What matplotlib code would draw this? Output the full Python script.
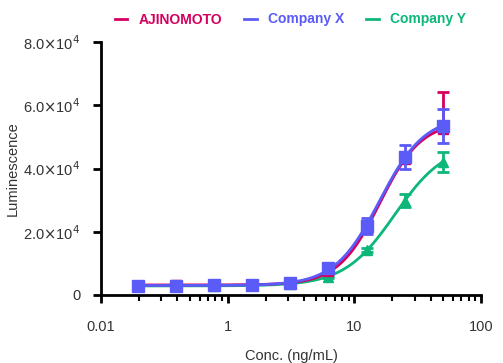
import numpy as np
import matplotlib
matplotlib.use("Agg")
import matplotlib.pyplot as plt
from matplotlib.ticker import FixedLocator, FixedFormatter, LogLocator, NullFormatter

plt.rcParams['font.family'] = ['Liberation Sans', 'DejaVu Sans']

# serial dilution, ng/mL
conc = [0.195, 0.39, 0.78, 1.5625, 3.125, 6.25, 12.5, 25, 50]

ajinomoto = [3000, 3100, 3200, 3300, 3900, 7600, 20800, 43000, 52500]
ajinomoto_err_lo = [200, 200, 200, 200, 200, 300, 600, 800, 800]
ajinomoto_err_hi = [200, 200, 200, 200, 200, 400, 1000, 2000, 11700]

company_x = [2900, 3000, 3100, 3200, 3800, 8500, 21800, 43700, 53500]
company_x_err = [200, 200, 200, 200, 200, 500, 2500, 3700, 5400]

company_y = [2800, 2900, 3000, 3100, 3500, 5700, 14200, 29800, 42100]
company_y_err = [150, 150, 150, 150, 150, 300, 600, 2000, 3200]

series_names = ['AJINOMOTO', 'Company X', 'Company Y']
colors = ['#D4005F', '#5B5BF7', '#0DB77A']

x_ticks = [0.1, 1, 10, 100]
x_labels = ['0.01', '1', '10', '100']
y_ticks = [0, 20000, 40000, 60000, 80000]
y_labels = ['0', r'2.0$\times$10$^4$', r'4.0$\times$10$^4$', r'6.0$\times$10$^4$', r'8.0$\times$10$^4$']


def fit_4pl(x, y):
    # grid search over EC50 and hill slope, bottom/top solved by least squares
    lx = np.log10(x)
    y = np.asarray(y, float)
    best = None
    for lec in np.linspace(0.5, 2.5, 201):
        for h in np.linspace(0.5, 4.0, 141):
            f = 1.0 / (1.0 + 10 ** ((lec - lx) * h))
            A = np.column_stack([1 - f, f])
            coef, *_ = np.linalg.lstsq(A, y, rcond=None)
            r = np.sum((A @ coef - y) ** 2)
            if best is None or r < best[0]:
                best = (r, lec, h, coef)
    _, lec, h, (bot, top) = best
    return lambda xx: bot + (top - bot) / (1.0 + 10 ** ((lec - np.log10(xx)) * h))


fig = plt.figure(figsize=(5.03, 3.63), dpi=100)
ax = fig.add_axes([101 / 503, (363 - 295) / 363, 380 / 503, 253 / 363])

xs = np.logspace(np.log10(conc[0]), np.log10(conc[-1]), 300)

# Company Y
fy = fit_4pl(conc, company_y)
ax.plot(xs, fy(xs), color=colors[2], lw=2, zorder=2)
ax.errorbar(conc, company_y, yerr=company_y_err, fmt='^', color=colors[2], ms=7,
            capsize=4, capthick=2, elinewidth=2, zorder=2)

# AJINOMOTO
fa = fit_4pl(conc, ajinomoto)
ax.plot(xs, fa(xs), color=colors[0], lw=2, zorder=3)
ax.errorbar(conc, ajinomoto, yerr=[ajinomoto_err_lo, ajinomoto_err_hi], fmt='s', color=colors[0],
            ms=7, capsize=4, capthick=2, elinewidth=2, zorder=3)

# Company X
fx = fit_4pl(conc, company_x)
ax.plot(xs, fx(xs), color=colors[1], lw=2, zorder=4)
ax.errorbar(conc, company_x, yerr=company_x_err, fmt='s', color=colors[1], ms=8,
            capsize=4, capthick=2, elinewidth=2, zorder=4)

ax.set_xscale('log')
ax.set_xlim(0.1, 100)
ax.set_ylim(0, 80000)
ax.xaxis.set_major_locator(FixedLocator(x_ticks))
ax.xaxis.set_major_formatter(FixedFormatter(x_labels))
ax.xaxis.set_minor_locator(LogLocator(base=10, subs=np.arange(2, 10)))
ax.xaxis.set_minor_formatter(NullFormatter())
ax.yaxis.set_major_locator(FixedLocator(y_ticks))
ax.yaxis.set_major_formatter(FixedFormatter(y_labels))

for s in ['top', 'right']:
    ax.spines[s].set_visible(False)
for s in ['left', 'bottom']:
    ax.spines[s].set_linewidth(2)
ax.tick_params(axis='both', which='major', direction='out', length=6, width=2,
               labelsize=10.5, labelcolor='#333333')
ax.tick_params(axis='x', which='minor', direction='out', length=4, width=1.5)
ax.tick_params(axis='x', pad=12)
ax.tick_params(axis='y', pad=9)

ax.set_xlabel('Conc. (ng/mL)', fontsize=10.5, color='#333333')
ax.set_ylabel('Luminescence', fontsize=10.5, color='#333333')
ax.xaxis.set_label_coords(0.5, -0.215)
ax.yaxis.set_label_coords(-0.215, 0.5)

handles = [plt.Line2D([], [], color=c, lw=2) for c in colors]
leg = fig.legend(handles, series_names, loc='upper center', bbox_to_anchor=(0.577, 1.0),
                 ncol=3, frameon=False, handlelength=0.9, handletextpad=0.8,
                 columnspacing=1.6, prop={'weight': 'bold', 'size': 10})
for t, c in zip(leg.get_texts(), colors):
    t.set_color(c)

fig.savefig('out.png', dpi=100)
